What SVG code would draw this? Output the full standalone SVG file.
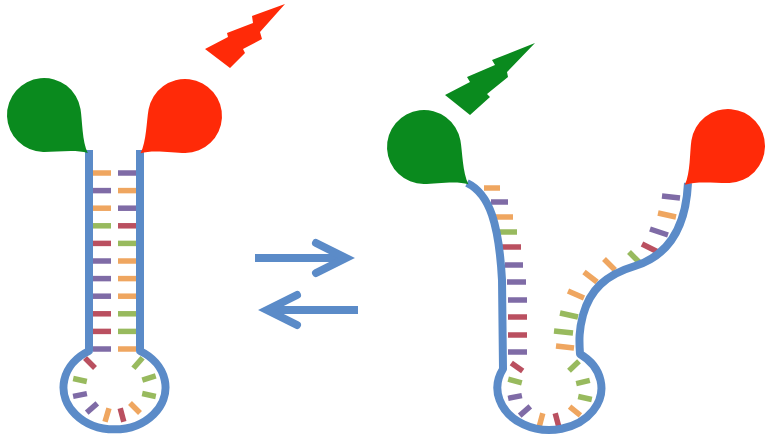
<svg xmlns="http://www.w3.org/2000/svg" width="767" height="439" viewBox="0 0 767 439">
  <style>
    .strand { fill: none; stroke: #5B8BC8; stroke-width: 8; stroke-linejoin: round; }
    .bp { stroke-width: 5.5; stroke-linecap: butt; }
    .o { stroke: #EFA660; }
    .p { stroke: #7F6BA6; }
    .r { stroke: #BA5060; }
    .g { stroke: #98BA5E; }
    .fg { fill: #0A8A1E; }
    .fr { fill: #FF2A08; }
    .arrow { fill: none; stroke: #5B8BC8; stroke-width: 8; }
  </style>
  <defs>
    <!-- teardrop: round body of radius 37 at the origin, tip pointing down -->
    <path id="drop" d="M 0 58 C -5 46 -20.8 32.8 -28.5 23.6 A 37 37 0 1 1 28.5 23.6 C 20.8 32.8 5 46 0 58 Z"/>
  </defs>

  <!-- Closed hairpin (left) -->
  <g id="hairpin-closed">
    <g id="closed-pairs">
      <line class="bp o" x1="93" y1="173" x2="111" y2="173"/>
      <line class="bp p" x1="118" y1="173" x2="136" y2="173"/>
      <line class="bp p" x1="93" y1="190.6" x2="111" y2="190.6"/>
      <line class="bp o" x1="118" y1="190.6" x2="136" y2="190.6"/>
      <line class="bp o" x1="93" y1="208.2" x2="111" y2="208.2"/>
      <line class="bp p" x1="118" y1="208.2" x2="136" y2="208.2"/>
      <line class="bp g" x1="93" y1="225.8" x2="111" y2="225.8"/>
      <line class="bp r" x1="118" y1="225.8" x2="136" y2="225.8"/>
      <line class="bp r" x1="93" y1="243.4" x2="111" y2="243.4"/>
      <line class="bp g" x1="118" y1="243.4" x2="136" y2="243.4"/>
      <line class="bp p" x1="93" y1="261" x2="111" y2="261"/>
      <line class="bp o" x1="118" y1="261" x2="136" y2="261"/>
      <line class="bp p" x1="93" y1="278.6" x2="111" y2="278.6"/>
      <line class="bp o" x1="118" y1="278.6" x2="136" y2="278.6"/>
      <line class="bp p" x1="93" y1="296.2" x2="111" y2="296.2"/>
      <line class="bp o" x1="118" y1="296.2" x2="136" y2="296.2"/>
      <line class="bp r" x1="93" y1="313.8" x2="111" y2="313.8"/>
      <line class="bp g" x1="118" y1="313.8" x2="136" y2="313.8"/>
      <line class="bp r" x1="93" y1="331.4" x2="111" y2="331.4"/>
      <line class="bp g" x1="118" y1="331.4" x2="136" y2="331.4"/>
      <line class="bp p" x1="93" y1="349" x2="111" y2="349"/>
      <line class="bp o" x1="118" y1="349" x2="136" y2="349"/>
      <!-- unpaired bases in the loop -->
      <line class="bp r" x1="85" y1="358" x2="95" y2="368"/>
      <line class="bp g" x1="73.2" y1="378.5" x2="86.8" y2="381.5"/>
      <line class="bp p" x1="73.1" y1="396.4" x2="86.9" y2="393.6"/>
      <line class="bp p" x1="86.7" y1="412.6" x2="97.3" y2="403.4"/>
      <line class="bp o" x1="105" y1="421.7" x2="109" y2="408.3"/>
      <line class="bp r" x1="123.8" y1="421.8" x2="120.2" y2="408.2"/>
      <line class="bp o" x1="140" y1="413" x2="130" y2="403"/>
      <line class="bp g" x1="155.8" y1="396.5" x2="142.2" y2="393.5"/>
      <line class="bp g" x1="155.7" y1="375.9" x2="142.3" y2="380.1"/>
      <line class="bp g" x1="142.6" y1="357.7" x2="133.4" y2="368.3"/>
    </g>
    <path class="strand" d="M 89 150 L 89 351 A 51 42 0 1 0 140 351 L 140 150"/>
  </g>
  <g id="donor-closed">
    <use href="#drop" class="fg" transform="translate(44,115) rotate(-49)"/>
  </g>
  <g id="quencher-closed">
    <use href="#drop" class="fr" transform="translate(185,116) rotate(50)"/>
  </g>
  <g id="flash-red">
    <polygon class="fr" points="285,4 252,16 253,23 227,33 228,37 205,49 230,68 245,53 243,49 262,39 260,32"/>
  </g>

  <!-- Equilibrium arrows -->
  <g id="connectors">
    <line class="arrow" x1="255" y1="258" x2="344" y2="258"/>
    <polyline class="arrow" points="316,243 346,258 316,273" stroke-linecap="round" stroke-linejoin="miter"/>
    <line class="arrow" x1="269" y1="310" x2="358" y2="310"/>
    <polyline class="arrow" points="297,295 267,310 297,325" stroke-linecap="round" stroke-linejoin="miter"/>
  </g>

  <!-- Opened hairpin (right) -->
  <g id="hairpin-open">
    <g id="open-pairs">
      <!-- left arm -->
      <line class="bp o" x1="484" y1="188" x2="500" y2="188"/>
      <line class="bp p" x1="491" y1="202" x2="508" y2="202"/>
      <line class="bp o" x1="495" y1="217" x2="513" y2="217"/>
      <line class="bp g" x1="499" y1="232" x2="517" y2="232"/>
      <line class="bp r" x1="502" y1="247" x2="521" y2="247"/>
      <line class="bp p" x1="505" y1="265" x2="523" y2="265"/>
      <line class="bp p" x1="507" y1="282" x2="526" y2="282"/>
      <line class="bp p" x1="508" y1="300" x2="527" y2="300"/>
      <line class="bp r" x1="508" y1="317" x2="527" y2="317"/>
      <line class="bp r" x1="508" y1="335" x2="527" y2="335"/>
      <line class="bp p" x1="508" y1="352" x2="527" y2="352"/>
      <!-- loop -->
      <line class="bp r" x1="511.3" y1="362.9" x2="522.7" y2="371.1"/>
      <line class="bp g" x1="508.2" y1="379.2" x2="521.8" y2="382.8"/>
      <line class="bp p" x1="508.1" y1="398.4" x2="521.9" y2="395.6"/>
      <line class="bp p" x1="519.7" y1="415.6" x2="530.3" y2="406.4"/>
      <line class="bp o" x1="539.2" y1="426.8" x2="542.8" y2="413.2"/>
      <line class="bp r" x1="558.8" y1="426.8" x2="555.2" y2="413.2"/>
      <line class="bp o" x1="580.4" y1="415.4" x2="569.6" y2="406.6"/>
      <line class="bp g" x1="591.8" y1="399.5" x2="578.2" y2="396.5"/>
      <line class="bp g" x1="589.8" y1="380.4" x2="576.2" y2="383.6"/>
      <line class="bp g" x1="579" y1="361.2" x2="569" y2="370.8"/>
      <!-- right arm -->
      <line class="bp o" x1="556" y1="346" x2="574" y2="348"/>
      <line class="bp g" x1="554" y1="331" x2="573" y2="333"/>
      <line class="bp g" x1="560" y1="313" x2="578" y2="317"/>
      <line class="bp o" x1="568" y1="291" x2="584" y2="298"/>
      <line class="bp o" x1="584" y1="272" x2="597" y2="282"/>
      <line class="bp o" x1="604" y1="259" x2="615" y2="270"/>
      <line class="bp g" x1="629" y1="252" x2="640" y2="263"/>
      <line class="bp r" x1="642" y1="244" x2="658" y2="252"/>
      <line class="bp p" x1="650" y1="229" x2="668" y2="235"/>
      <line class="bp o" x1="658" y1="213" x2="676" y2="217"/>
      <line class="bp p" x1="662" y1="196" x2="680" y2="198"/>
    </g>
    <path class="strand" d="M 467 183 C 490 194 499 225 502 280 L 503 369 A 52 42 0 1 0 580 354 C 579 340 579 330 583 315 C 590 290 605 275 635 266 C 670 255 686 225 688 183"/>
  </g>
  <g id="donor-open">
    <use href="#drop" class="fg" transform="translate(424,147) rotate(-50)"/>
  </g>
  <g id="acceptor-open">
    <use href="#drop" class="fr" transform="translate(728,146) rotate(48)"/>
  </g>
  <g id="flash-green">
    <polygon class="fg" points="535,43 492,60 495,65 467,77 470,82 445,95 470,115 490,97 487,94 508,77 507,72"/>
  </g>
</svg>
